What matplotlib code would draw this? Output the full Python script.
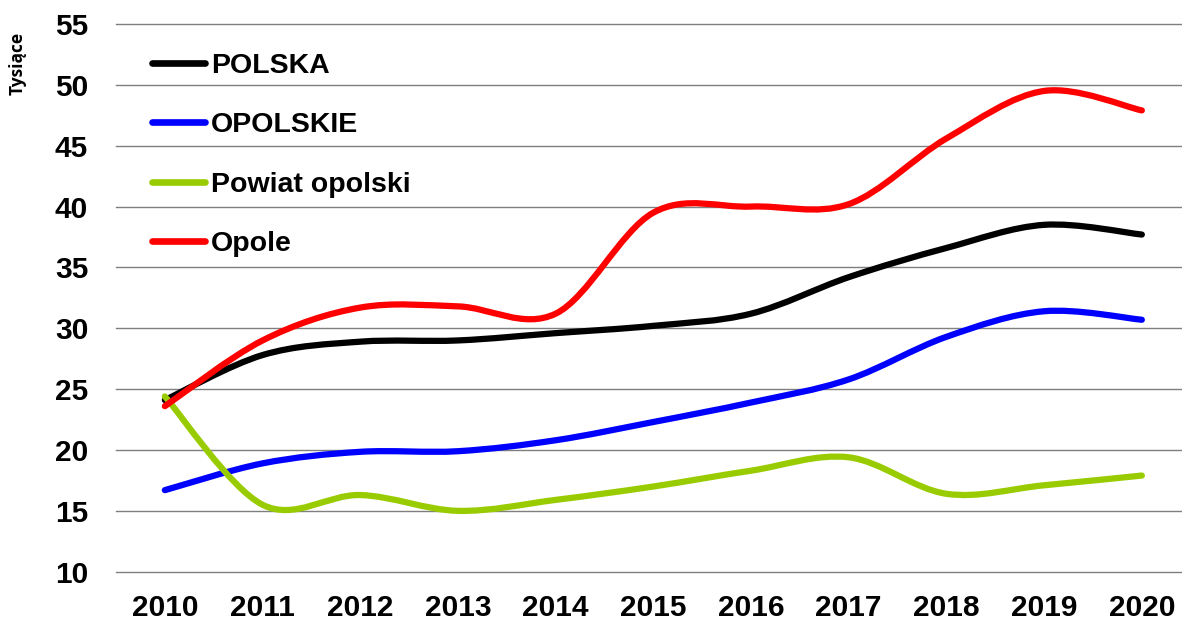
import matplotlib
matplotlib.use("Agg")
import matplotlib.pyplot as plt
from matplotlib.path import Path
from matplotlib.patches import PathPatch
from matplotlib.lines import Line2D

years = [2010, 2011, 2012, 2013, 2014, 2015, 2016, 2017, 2018, 2019, 2020]
polska = [24.1, 27.8, 28.9, 29.0, 29.6, 30.2, 31.2, 34.2, 36.6, 38.5, 37.7]
opolskie = [16.7, 18.9, 19.85, 19.9, 20.8, 22.3, 23.9, 25.8, 29.3, 31.4, 30.7]
powiat = [24.4, 15.5, 16.3, 15.0, 15.9, 17.0, 18.3, 19.4, 16.4, 17.1, 17.9]
opole = [23.6, 29.0, 31.7, 31.8, 31.2, 39.5, 40.0, 40.2, 45.6, 49.5, 47.9]

labels = ["POLSKA", "OPOLSKIE", "Powiat opolski", "Opole"]
colors = ["#000000", "#0000FF", "#99CC00", "#FF0000"]
y_ticks = [10, 15, 20, 25, 30, 35, 40, 45, 50, 55]

plt.rcParams["font.family"] = ["Liberation Sans", "DejaVu Sans"]


def smooth_path(xs, ys):
    # Excel-style smoothed line: cubic bezier segments through the points
    pts = list(zip(xs, ys))
    verts = [pts[0]]
    codes = [Path.MOVETO]
    n = len(pts)
    for i in range(n - 1):
        p0 = pts[i - 1] if i > 0 else pts[i]
        p1 = pts[i]
        p2 = pts[i + 1]
        p3 = pts[i + 2] if i + 2 < n else pts[i + 1]
        c1 = (p1[0] + (p2[0] - p0[0]) / 6, p1[1] + (p2[1] - p0[1]) / 6)
        c2 = (p2[0] - (p3[0] - p1[0]) / 6, p2[1] - (p3[1] - p1[1]) / 6)
        verts += [c1, c2, p2]
        codes += [Path.CURVE4] * 3
    return Path(verts, codes)


fig = plt.figure(figsize=(11.82, 6.2), dpi=100)
ax = fig.add_axes([116 / 1182, 48.3 / 620, 1074.7 / 1182, 547.7 / 620])

series = [polska, opolskie, powiat, opole]
for vals, col in zip(series, colors):
    patch = PathPatch(smooth_path(years, vals), fill=False, edgecolor=col,
                      lw=4.5, capstyle="round", joinstyle="round", zorder=3)
    ax.add_patch(patch)

ax.set_xlim(2009.5, 2020.5)
ax.set_ylim(10, 55)
ax.set_xticks(years)
ax.set_yticks(y_ticks)
ax.tick_params(length=0, labelsize=21.5)
ax.tick_params(axis="y", pad=20)
ax.tick_params(axis="x", pad=16)
for lab in ax.get_xticklabels() + ax.get_yticklabels():
    lab.set_fontweight("bold")
ax.yaxis.grid(True, color="#7f7f7f", lw=1.0)
for gl in ax.get_ygridlines():
    gl.set_clip_on(False)
ax.set_axisbelow(True)
for s in ax.spines.values():
    s.set_visible(False)

handles = [Line2D([0], [0], color=c, lw=4.8, solid_capstyle="round") for c in colors]
ax.legend(handles, labels, loc="upper left", bbox_to_anchor=(152 / 1182, 1 - 53 / 620),
          bbox_transform=fig.transFigure, frameon=False, borderpad=0, borderaxespad=0,
          handlelength=1.85, handletextpad=0.22, labelspacing=1.17,
          prop={"size": 20.5, "weight": "bold"})

fig.text(18 / 1182, 1 - 63 / 620, "Tysiące", rotation=90, ha="center", va="center",
         fontsize=12.5, fontweight="bold", family=["Open Sans", "DejaVu Sans"])

fig.savefig("out.png", dpi=100)
